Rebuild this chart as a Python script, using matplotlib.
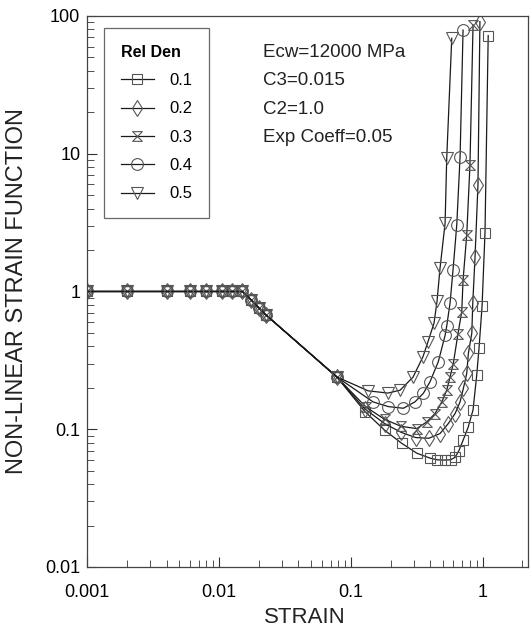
import matplotlib
matplotlib.use("Agg")
import matplotlib.pyplot as plt
from matplotlib.path import Path

plt.rcParams['font.family'] = ['Liberation Sans', 'DejaVu Sans']

# shared part of every curve (all densities coincide here)
common_strain = [0.001, 0.002, 0.004, 0.006, 0.008, 0.0105, 0.0125, 0.015, 0.0175, 0.02, 0.0225]
common_f = [1, 1, 1, 1, 1, 1, 1, 1, 0.87, 0.76, 0.68]

rel_den = ['0.1', '0.2', '0.3', '0.4', '0.5']

strain_01 = [0.078, 0.128, 0.181, 0.243, 0.316, 0.398, 0.45, 0.518, 0.57, 0.617, 0.66, 0.709,
             0.774, 0.844, 0.90, 0.937, 0.988, 1.04, 1.1]
f_01 = [0.24, 0.134, 0.098, 0.079, 0.067, 0.0617, 0.060, 0.0597, 0.0600, 0.0625, 0.070, 0.083,
        0.103, 0.138, 0.247, 0.388, 0.78, 2.66, 72]

strain_02 = [0.078, 0.128, 0.18, 0.24, 0.31, 0.39, 0.474, 0.548, 0.617, 0.673, 0.713, 0.756,
             0.778, 0.826, 0.84, 0.874, 0.92, 0.952]
f_02 = [0.24, 0.14, 0.11, 0.095, 0.087, 0.086, 0.093, 0.110, 0.130, 0.158, 0.198, 0.254,
        0.355, 0.497, 0.82, 1.78, 5.93, 91]

strain_03 = [0.078, 0.13, 0.18, 0.24, 0.316, 0.376, 0.435, 0.489, 0.533, 0.565, 0.598, 0.648,
             0.693, 0.709, 0.756, 0.80, 0.844]
f_03 = [0.24, 0.145, 0.118, 0.105, 0.101, 0.113, 0.130, 0.158, 0.192, 0.24, 0.30, 0.49,
        0.713, 1.21, 2.57, 8.3, 86]

strain_04 = [0.078, 0.147, 0.192, 0.25, 0.306, 0.354, 0.398, 0.46, 0.518, 0.533, 0.565, 0.595,
             0.635, 0.673, 0.709]
f_04 = [0.24, 0.158, 0.146, 0.142, 0.158, 0.182, 0.221, 0.309, 0.48, 0.561, 0.824, 1.43,
        3.03, 9.5, 79]

strain_05 = [0.078, 0.135, 0.191, 0.236, 0.296, 0.352, 0.384, 0.427, 0.45, 0.474, 0.518, 0.533, 0.582]
f_05 = [0.24, 0.19, 0.183, 0.192, 0.239, 0.336, 0.431, 0.59, 0.85, 1.47, 3.12, 9.26, 68.9]

# hourglass marker (two triangles tip to tip)
hourglass = Path([(-1, 1), (1, 1), (-1, -1), (1, -1), (-1, 1)],
                 [Path.MOVETO, Path.LINETO, Path.LINETO, Path.LINETO, Path.CLOSEPOLY])

markers = ['s', 'd', hourglass, 'o', 'v']
sizes = [7.5, 8, 7, 8.5, 8.5]
series = [(strain_01, f_01), (strain_02, f_02), (strain_03, f_03), (strain_04, f_04), (strain_05, f_05)]

fig = plt.figure(figsize=(5.3, 6.34), dpi=100)
ax = fig.add_axes([0.1647, 0.1057, 0.8313, 0.8691])

for (xs, ys), m, ms, lab in zip(series, markers, sizes, rel_den):
    ax.plot(common_strain + xs, common_f + ys, color='#1a1a1a', lw=0.9,
            marker=m, ms=ms, mfc='none', mec='#555555', mew=0.8, label=lab)

ax.set_xscale('log')
ax.set_yscale('log')
ax.set_xlim(0.001, 2.2)
ax.set_ylim(0.01, 100)

ax.set_xticks([0.001, 0.01, 0.1, 1])
ax.set_xticklabels(['0.001', '0.01', '0.1', '1'])
ax.set_yticks([0.01, 0.1, 1, 10, 100])
ax.set_yticklabels(['0.01', '0.1', '1', '10', '100'])
ax.tick_params(which='both', direction='in', top=False, right=False, labelsize=13, color='#333333')
ax.tick_params(axis='x', which='major', pad=12, length=7)
ax.tick_params(axis='y', which='major', pad=5, length=7)
ax.tick_params(which='minor', length=5)
for s in ax.spines.values():
    s.set_color('#444444')
    s.set_linewidth(0.9)

ax.set_xlabel('STRAIN', fontsize=16, color='#222222')
ax.xaxis.set_label_coords(0.494, -0.072)
ax.set_ylabel('NON-LINEAR STRAIN FUNCTION', fontsize=17, color='#222222')
ax.yaxis.set_label_coords(-0.135, 0.5)

leg = ax.legend(loc='upper left', bbox_to_anchor=(0.038, 0.978), borderaxespad=0,
                title='Rel Den', title_fontproperties={'size': 11.5, 'weight': 'bold'},
                fontsize=12, frameon=True, fancybox=False, edgecolor='#444444',
                handlelength=2.0, handletextpad=0.9, labelspacing=0.8,
                borderpad=1.0, alignment='left')
leg.get_frame().set_linewidth(0.9)

notes = ['Ecw=12000 MPa', 'C3=0.015', 'C2=1.0', 'Exp Coeff=0.05']
for i, t in enumerate(notes):
    ax.text(0.399, 0.933 - i * 0.051, t, transform=ax.transAxes, fontsize=13.5,
            va='center', ha='left', color='#222222')

fig.savefig('out.png', dpi=100)
